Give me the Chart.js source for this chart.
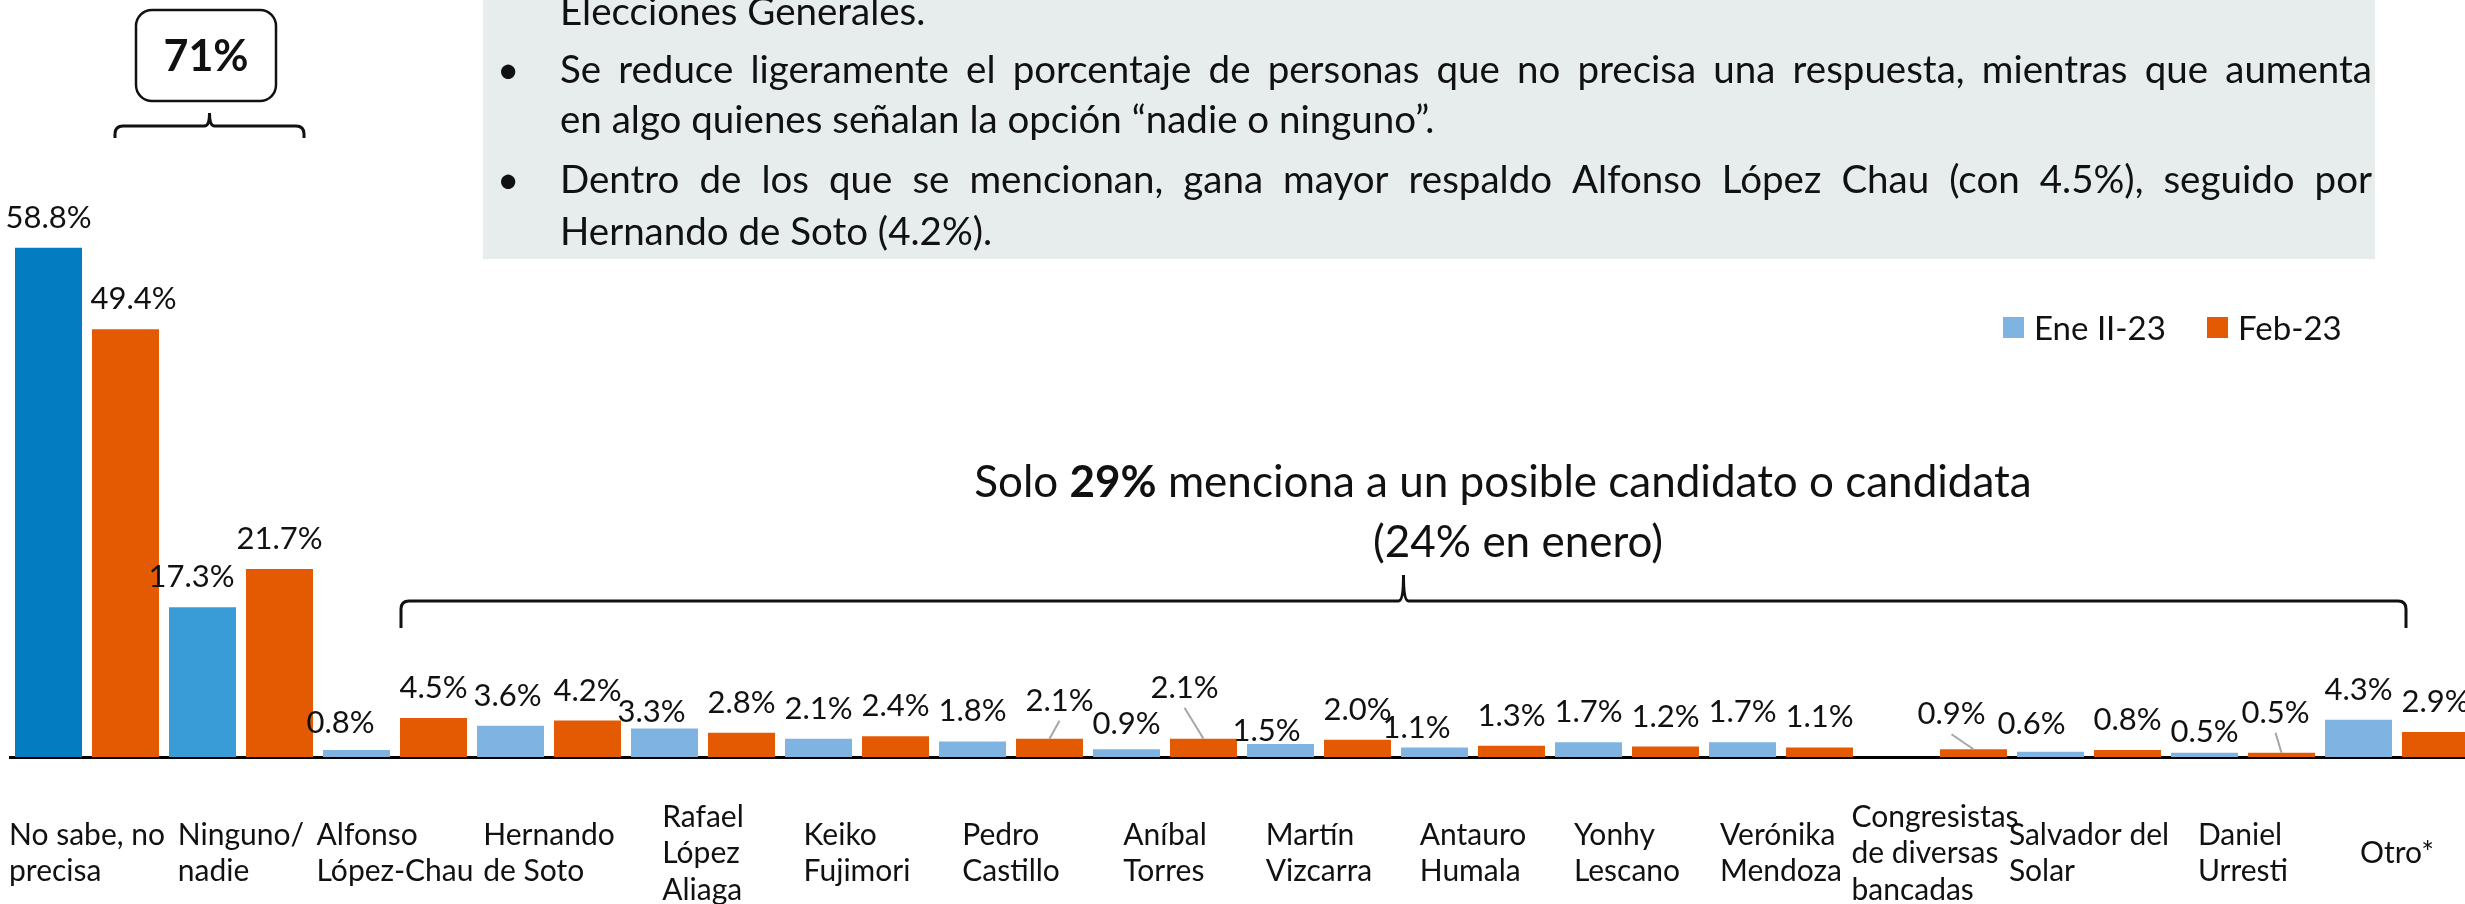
<!DOCTYPE html>
<html>

<head>
    <title>Intención de voto - candidatos</title>
    <script src="https://cdn.jsdelivr.net/npm/chart.js"></script>
    <style>
        html, body { margin: 0; padding: 0; background: #fff; overflow: hidden; }
        body { width: 2465px; height: 904px; position: relative; }
        #wrap { position: absolute; left: 0; top: 0; width: 2474px; height: 904px; }
    </style>
</head>

<body>
    <div id="wrap"><canvas id="myChart"></canvas></div>

    <script>
        // data
        const categories = [
            ['No sabe, no', 'precisa'],
            ['Ninguno/', 'nadie'],
            ['Alfonso', 'López-Chau'],
            ['Hernando', 'de Soto'],
            ['Rafael', 'López', 'Aliaga'],
            ['Keiko', 'Fujimori'],
            ['Pedro', 'Castillo'],
            ['Aníbal', 'Torres'],
            ['Martín', 'Vizcarra'],
            ['Antauro', 'Humala'],
            ['Yonhy', 'Lescano'],
            ['Verónika', 'Mendoza'],
            ['Congresistas', 'de diversas', 'bancadas'],
            ['Salvador del', 'Solar'],
            ['Daniel', 'Urresti'],
            ['Otro*']
        ];
        const seriesNames = ['Ene II-23', 'Feb-23'];
        const eneValues = [58.8, 17.3, 0.8, 3.6, 3.3, 2.1, 1.8, 0.9, 1.5, 1.1, 1.7, 1.7, null, 0.6, 0.5, 4.3];
        const febValues = [49.4, 21.7, 4.5, 4.2, 2.8, 2.4, 2.1, 2.1, 2.0, 1.3, 1.2, 1.1, 0.9, 0.8, 0.5, 2.9];

        const noteLines = [
            { text: 'Elecciones Generales.', justify: false, bullet: false },
            { text: 'Se reduce ligeramente el porcentaje de personas que no precisa una respuesta, mientras que aumenta', justify: true, bullet: true },
            { text: 'en algo quienes señalan la opción “nadie o ninguno”.', justify: false, bullet: false },
            { text: 'Dentro de los que se mencionan, gana mayor respaldo Alfonso López Chau (con 4.5%), seguido por', justify: true, bullet: true },
            { text: 'Hernando de Soto (4.2%).', justify: false, bullet: false }
        ];
        const bracketTotal = '71%';
        const candidatesNote = [['Solo ', false], ['29%', true], [' menciona a un posible candidato o candidata', false]];
        const candidatesSub = '(24% en enero)';

        // styling
        const FONT = 'Lato, "Open Sans", sans-serif';
        const blueColors = ['#037CC2', '#3A9CD7'].concat(Array(14).fill('#7FB4E2'));
        const orange = '#E35A03';
        const legendColors = ['#7FB4E2', orange];

        // label nudges: "dataset-index" -> [dx, dy, leader line]
        const labelNudge = {
            '0-1': [-11, 0], '1-0': [8, 0],
            '0-2': [-16, 3], '0-3': [-3, 0], '0-4': [-13, 14],
            '1-6': [10, -8, true], '0-7': [0, 5], '1-7': [-19, -21, true],
            '0-8': [-14, 17], '0-9': [-18, 11],
            '1-12': [-22, -5, true], '0-13': [-19, 2],
            '0-14': [0, 9], '1-14': [-6, -10, true]
        };

        function drawJustified(ctx, text, x, y, width) {
            const words = text.split(' ');
            const widths = words.map(w => ctx.measureText(w).width);
            const total = widths.reduce((a, b) => a + b, 0);
            const gap = (width - total) / (words.length - 1);
            let cx = x;
            words.forEach((w, i) => {
                ctx.fillText(w, cx, y);
                cx += widths[i] + gap;
            });
        }

        function drawBrace(ctx, x1, x2, yLine, yEnd, yPeak) {
            const mid = (x1 + x2) / 2;
            const r = 8;
            ctx.beginPath();
            ctx.moveTo(x1, yEnd);
            ctx.lineTo(x1, yLine + r);
            ctx.quadraticCurveTo(x1, yLine, x1 + r, yLine);
            ctx.lineTo(mid - 5, yLine);
            ctx.quadraticCurveTo(mid, yLine, mid, yPeak);
            ctx.quadraticCurveTo(mid, yLine, mid + 5, yLine);
            ctx.lineTo(x2 - r, yLine);
            ctx.quadraticCurveTo(x2, yLine, x2, yLine + r);
            ctx.lineTo(x2, yEnd);
            ctx.stroke();
        }

        const decorations = {
            id: 'decorations',
            beforeDraw(chart) {
                const ctx = chart.ctx;
                ctx.save();
                // note box
                ctx.fillStyle = '#E7ECEC';
                ctx.fillRect(483, 0, 1892, 259);
                ctx.fillStyle = '#111';
                ctx.font = '38.5px ' + FONT;
                ctx.textBaseline = 'alphabetic';
                const baselines = [25, 83, 133, 193, 245];
                noteLines.forEach((ln, i) => {
                    if (ln.bullet) ctx.fillText('•', 497, baselines[i]);
                    if (ln.justify) drawJustified(ctx, ln.text, 560, baselines[i], 1812);
                    else ctx.fillText(ln.text, 560, baselines[i]);
                });

                // 71% box and brace
                ctx.strokeStyle = '#111';
                ctx.lineWidth = 2.5;
                ctx.beginPath();
                ctx.roundRect(136, 10, 140, 91, 16);
                ctx.stroke();
                ctx.font = 'bold 43px ' + FONT;
                ctx.textAlign = 'center';
                ctx.textBaseline = 'middle';
                ctx.fillText(bracketTotal, 206, 57);
                ctx.lineWidth = 3;
                drawBrace(ctx, 115, 304, 126, 138, 113);

                // candidates brace and text
                drawBrace(ctx, 401, 2406, 601, 628, 575);
                ctx.textBaseline = 'alphabetic';
                ctx.textAlign = 'left';
                const parts = candidatesNote.map(([t, b]) => {
                    ctx.font = (b ? 'bold ' : '') + '44px ' + FONT;
                    return { t, b, w: ctx.measureText(t).width };
                });
                const totalW = parts.reduce((a, p) => a + p.w, 0);
                let cx = 1503 - totalW / 2;
                parts.forEach(p => {
                    ctx.font = (p.b ? 'bold ' : '') + '44px ' + FONT;
                    ctx.fillText(p.t, cx, 497);
                    cx += p.w;
                });
                ctx.font = '44px ' + FONT;
                ctx.textAlign = 'center';
                ctx.fillText(candidatesSub, 1518, 557);

                // legend
                ctx.font = '33px ' + FONT;
                ctx.textAlign = 'left';
                ctx.textBaseline = 'middle';
                const legendX = [2003, 2207];
                chart.data.datasets.forEach((ds, i) => {
                    ctx.fillStyle = legendColors[i];
                    ctx.fillRect(legendX[i], 317, 21, 21);
                    ctx.fillStyle = '#111';
                    ctx.fillText(ds.label, legendX[i] + 31, 329);
                });
                ctx.restore();
            },
            afterDatasetsDraw(chart) {
                const ctx = chart.ctx;
                ctx.save();
                ctx.font = '31px ' + FONT;
                ctx.textAlign = 'center';
                ctx.textBaseline = 'middle';
                chart.data.datasets.forEach((ds, di) => {
                    chart.getDatasetMeta(di).data.forEach((bar, i) => {
                        const v = ds.data[i];
                        if (v === null || v === undefined) return;
                        const [dx, dy, leader] = labelNudge[di + '-' + i] || [0, 0];
                        const lx = bar.x + dx;
                        const ly = bar.y - 30 + dy;
                        if (leader) {
                            ctx.strokeStyle = '#A6A6A6';
                            ctx.lineWidth = 2;
                            ctx.beginPath();
                            ctx.moveTo(lx, ly + 20);
                            ctx.lineTo(bar.x, bar.y);
                            ctx.stroke();
                        }
                        ctx.fillStyle = '#111';
                        ctx.fillText(v.toFixed(1) + '%', lx, ly);
                    });
                });

                // category labels: block centred, lines left aligned
                const xScale = chart.scales.x;
                ctx.font = '30px ' + FONT;
                ctx.textAlign = 'left';
                const lineH = 36.5;
                categories.forEach((lines, i) => {
                    const w = Math.max(...lines.map(l => ctx.measureText(l).width));
                    const left = xScale.getPixelForValue(i) - w / 2;
                    const top = 853.5 - (lines.length - 1) * lineH / 2;
                    lines.forEach((l, k) => ctx.fillText(l, left, top + k * lineH));
                });
                ctx.restore();
            }
        };

        const chart = new Chart('myChart', {
            type: 'bar',
            data: {
                labels: categories.map(c => c.join(' ')),
                datasets: [
                    { label: seriesNames[0], data: eneValues, backgroundColor: blueColors },
                    { label: seriesNames[1], data: febValues, backgroundColor: orange }
                ]
            },
            options: {
                responsive: true,
                maintainAspectRatio: false,
                animation: false,
                layout: { padding: { left: 10, right: 0, top: 0, bottom: 0 } },
                datasets: { bar: { barPercentage: 0.87, categoryPercentage: 1 } },
                scales: {
                    x: {
                        grid: { display: false },
                        border: { display: true, color: '#000', width: 3 },
                        ticks: { display: false },
                        afterFit: (scale) => { scale.height = 147; }
                    },
                    y: { display: false, min: 0, max: 87.4 }
                },
                plugins: {
                    legend: { display: false },
                    tooltip: { enabled: false }
                }
            },
            plugins: [decorations]
        });
    </script>
</body>

</html>
